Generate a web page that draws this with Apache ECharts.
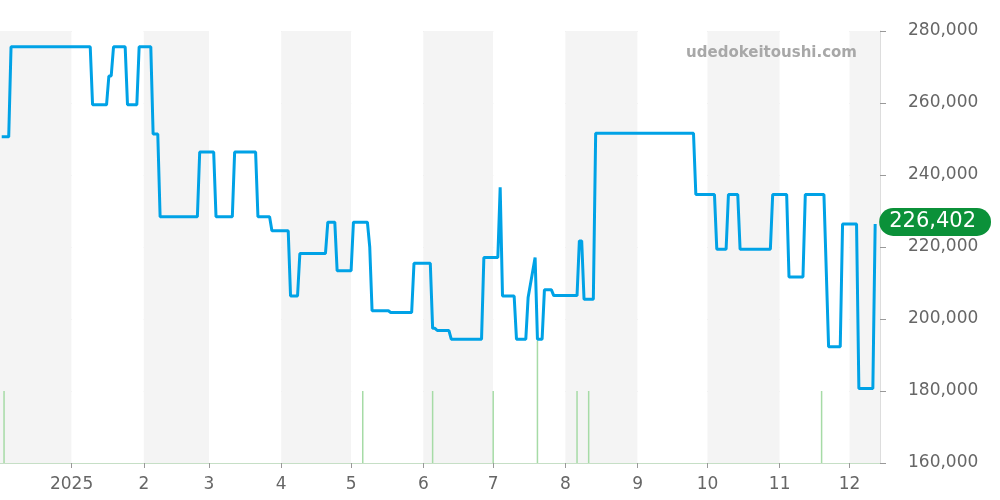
<!DOCTYPE html>
<html>
<head>
<meta charset="utf-8">
<script src="https://cdn.jsdelivr.net/npm/echarts@6/dist/echarts.min.js"></script>
<style>
html,body{margin:0;padding:0;background:#fff;}
#chart{width:1000px;height:500px;}
</style>
</head>
<body>
<div id="chart"></div>
<script>
const priceDates = [
'2024-12-02','2024-12-05','2024-12-06','2025-01-09','2025-01-10','2025-01-16','2025-01-17','2025-01-18','2025-01-19','2025-01-24',
'2025-01-25','2025-01-29','2025-01-30','2025-02-04','2025-02-05','2025-02-07','2025-02-08','2025-02-24','2025-02-25','2025-03-03',
'2025-03-04','2025-03-11','2025-03-12','2025-03-21','2025-03-22','2025-03-27','2025-03-28','2025-04-04','2025-04-05','2025-04-08',
'2025-04-09','2025-04-20','2025-04-21','2025-04-24','2025-04-25','2025-05-01','2025-05-02','2025-05-08','2025-05-09','2025-05-10',
'2025-05-17','2025-05-18','2025-05-27','2025-05-28','2025-06-04','2025-06-05','2025-06-06','2025-06-07','2025-06-12','2025-06-13',
'2025-06-26','2025-06-27','2025-07-03','2025-07-04','2025-07-05','2025-07-10','2025-07-11','2025-07-15','2025-07-16','2025-07-19',
'2025-07-20','2025-07-22','2025-07-23','2025-07-26','2025-07-27','2025-08-06','2025-08-07','2025-08-08','2025-08-09','2025-08-13',
'2025-08-14','2025-09-25','2025-09-26','2025-10-04','2025-10-05','2025-10-09','2025-10-10','2025-10-14','2025-10-15','2025-10-28',
'2025-10-29','2025-11-04','2025-11-05','2025-11-11','2025-11-12','2025-11-20','2025-11-22','2025-11-27','2025-11-28','2025-12-04',
'2025-12-05','2025-12-11','2025-12-12'
];
const priceValues = [
250600,250600,275600,275600,259500,259500,267500,267500,275600,275600,
259500,259500,275600,275600,251400,251400,228400,228400,246400,246400,
228400,228400,246400,246400,228400,228400,224500,224500,206400,206400,
218200,218200,226900,226900,213400,213400,226900,226900,220000,202300,
202300,201800,201800,215500,215500,197400,197400,196800,196800,194400,
194400,217100,217100,236600,206400,206400,194400,194400,206000,217100,
194400,194400,208100,208100,206500,206500,221700,221700,205500,205500,
251600,251600,234600,234600,219400,219400,234600,234600,219400,219400,
234600,234600,211700,211700,234600,234600,192300,192300,226400,226400,
180700,180700,226402
];
const volumeDates = ['2024-12-03','2025-05-06','2025-06-05','2025-07-01','2025-07-20','2025-08-06','2025-08-11','2025-11-19'];
const volumeValues = [1,1,1,1,1.7,1,1,1];
const yTicks = {min:160000, max:280000, interval:20000};
const xRange = {min:'2024-12-01 14:00', max:'2025-12-13 18:00'};
const watermark = 'udedokeitoushi.com';

const chart = echarts.init(document.getElementById('chart'), null, {renderer:'canvas'});
const fmt = v => Number(v).toLocaleString('en-US');
const option = {
  animation:false,
  backgroundColor:'#fff',
  textStyle:{fontFamily:'DejaVu Sans'},
  graphic:[{
    type:'text', right:143, top:46, z:10,
    style:{text:watermark, fill:'#a8a8a8', font:"bold 15px 'DejaVu Sans'"}
  }],
  grid:{left:0, right:120, top:31, bottom:37},
  xAxis:{
    type:'time',
    min:xRange.min, max:xRange.max,
    minInterval:27*86400000, maxInterval:31*86400000,
    axisLine:{show:true, lineStyle:{color:'#c6dfc6', width:1}},
    axisTick:{show:true, length:5, lineStyle:{color:'#999'}},
    axisLabel:{
      fontSize:17, color:'#666', margin:13, showMinLabel:false, showMaxLabel:false,
      formatter:function(val){const d=new Date(val);return d.getMonth()===0?String(d.getFullYear()):String(d.getMonth()+1);}
    },
    splitLine:{show:false},
    splitArea:{show:true, areaStyle:{color:['#f4f4f4','#ffffff']}}
  },
  yAxis:[{
    type:'value', position:'right',
    min:yTicks.min, max:yTicks.max, interval:yTicks.interval,
    axisLine:{show:true, lineStyle:{color:'#dddddd'}},
    axisTick:{show:true, length:6, lineStyle:{color:'#999'}},
    axisLabel:{fontSize:17, color:'#666', margin:28, formatter:v=>fmt(v)},
    splitLine:{show:true, lineStyle:{color:'#e0e0e0', width:1}}
  },{
    type:'value', min:0, max:6, show:false, splitLine:{show:false}
  }],
  series:[{
    type:'bar', yAxisIndex:1, barWidth:1.5, z:1,
    itemStyle:{color:'#a6dba6'},
    data:volumeDates.map((d,i)=>[d,volumeValues[i]])
  },{
    type:'line', z:3, symbol:'none',
    lineStyle:{color:'#00a2e6', width:3},
    data:priceDates.map((d,i)=>[d,priceValues[i]]),
    endLabel:{
      show:true, distance:4, offset:[0,-2],
      formatter:p=>fmt(p.value[1]),
      color:'#fff', fontSize:21, fontFamily:'DejaVu Sans',
      backgroundColor:'#0b9139', borderRadius:15, padding:[4,15,3,10]
    }
  }]
};
chart.setOption(option);
</script>
</body>
</html>
